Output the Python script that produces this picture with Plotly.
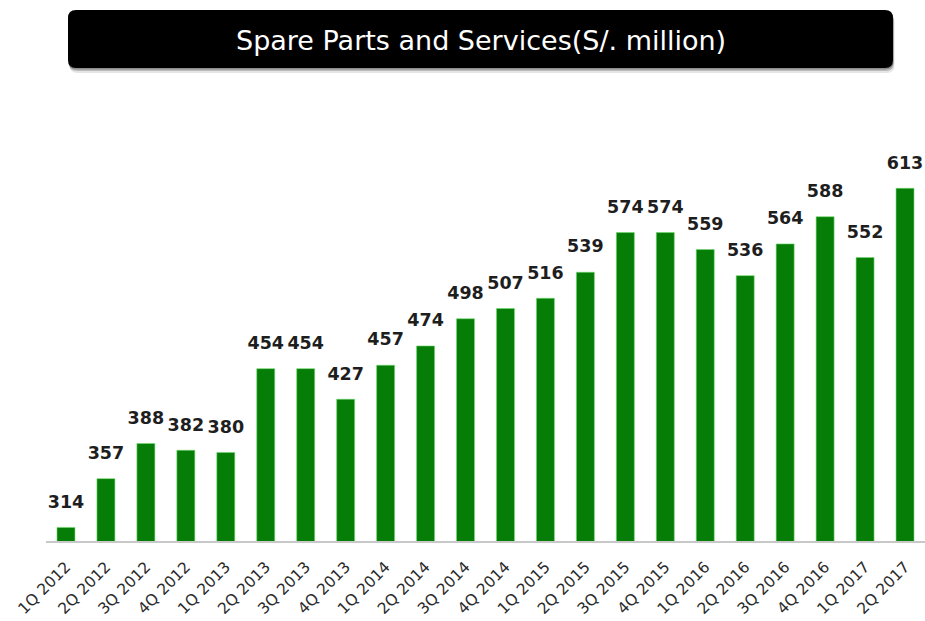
import plotly.graph_objects as go

# Quarterly revenue from spare parts and services (S/. million)
quarters = [
    "1Q 2012", "2Q 2012", "3Q 2012", "4Q 2012",
    "1Q 2013", "2Q 2013", "3Q 2013", "4Q 2013",
    "1Q 2014", "2Q 2014", "3Q 2014", "4Q 2014",
    "1Q 2015", "2Q 2015", "3Q 2015", "4Q 2015",
    "1Q 2016", "2Q 2016", "3Q 2016", "4Q 2016",
    "1Q 2017", "2Q 2017",
]
revenue = [
    314, 357, 388, 382,
    380, 454, 454, 427,
    457, 474, 498, 507,
    516, 539, 574, 574,
    559, 536, 564, 588,
    552, 613,
]
title_text = "Spare Parts and Services(S/. million)"

W, H = 925, 621
ML, MR, MT, MB = 46, 0, 130, 80
PW, PH = W - ML - MR, H - MT - MB


def px_x(x):
    return (x - ML) / PW


def px_y(y):
    return (H - MB - y) / PH


def rounded_rect(x0, y0, x1, y1, r):
    # path in paper coordinates built from pixel corners
    X0, X1 = px_x(x0), px_x(x1)
    Y0, Y1 = px_y(y0), px_y(y1)
    rx, ry = r / PW, r / PH
    return (
        f"M {X0 + rx},{Y0} L {X1 - rx},{Y0} Q {X1},{Y0} {X1},{Y0 - ry} "
        f"L {X1},{Y1 + ry} Q {X1},{Y1} {X1 - rx},{Y1} "
        f"L {X0 + rx},{Y1} Q {X0},{Y1} {X0},{Y1 + ry} "
        f"L {X0},{Y0 - ry} Q {X0},{Y0} {X0 + rx},{Y0} Z"
    )


fig = go.Figure()
fig.add_trace(go.Bar(
    x=quarters,
    y=revenue,
    marker=dict(color="#067d06", line=dict(color="#6fdc6f", width=0.6)),
    hoverinfo="x+y",
))
# value labels: an invisible marker sits on each bar top, text goes above it
fig.add_trace(go.Scatter(
    x=quarters,
    y=revenue,
    mode="markers+text",
    marker=dict(size=23, color="rgba(0,0,0,0)"),
    text=[str(v) for v in revenue],
    textposition="top center",
    textfont=dict(family="DejaVu Sans", size=17.5, color="#1e1e1e", weight="bold"),
    cliponaxis=False,
    hoverinfo="skip",
))

shapes = []
# soft shadow under the title banner
for off, op in [(5, 0.10), (3, 0.18), (1.5, 0.25)]:
    shapes.append(dict(
        type="path", xref="paper", yref="paper",
        path=rounded_rect(68 + off * 0.3, 10 + off, 893 + off * 0.3, 68 + off, 8),
        fillcolor=f"rgba(0,0,0,{op})", line=dict(width=0), layer="above",
    ))
# title banner
shapes.append(dict(
    type="path", xref="paper", yref="paper",
    path=rounded_rect(68, 10, 893, 68, 8),
    fillcolor="#000000", line=dict(width=0), layer="above",
))

fig.update_layout(
    width=W, height=H,
    margin=dict(l=ML, r=MR, t=MT, b=MB, pad=0),
    paper_bgcolor="white", plot_bgcolor="white",
    showlegend=False,
    bargap=0.55,
    shapes=shapes,
    annotations=[dict(
        text=title_text, xref="paper", yref="paper",
        x=px_x(481), y=px_y(40), xanchor="center", yanchor="middle",
        showarrow=False,
        font=dict(family="DejaVu Sans", size=27, color="white"),
    )],
    xaxis=dict(
        range=[-0.5, len(quarters) - 0.5], autorange=False,
        showline=True, linecolor="#c8c8c8", linewidth=1.5,
        tickangle=-45, ticks="outside", ticklen=9, tickcolor="rgba(0,0,0,0)",
        tickfont=dict(family="DejaVu Sans", size=15.5, color="#2b2b2b"),
        showgrid=False, zeroline=False,
    ),
    yaxis=dict(
        range=[302, 302 + PH / 1.134],
        visible=False, showgrid=False, zeroline=False,
    ),
)

fig.write_html("out.html")
